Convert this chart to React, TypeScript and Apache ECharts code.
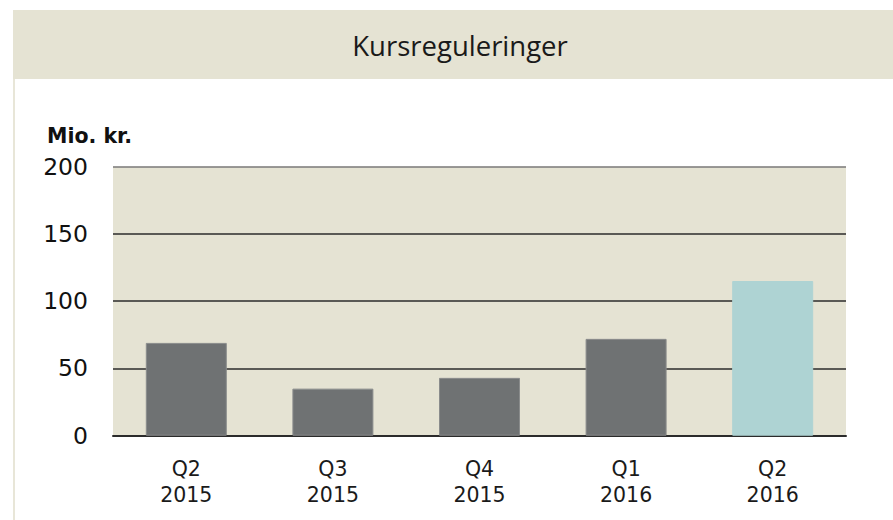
import React, { useEffect, useRef } from "react";
import * as echarts from "echarts";

const quarters = ["Q2", "Q3", "Q4", "Q1", "Q2"];
const years = ["2015", "2015", "2015", "2016", "2016"];
const values = [69, 35, 43, 72, 115];
const barColors = ["#6f7273", "#6f7273", "#6f7273", "#6f7273", "#aed3d3"];
const yTicks = [0, 50, 100, 150, 200];
const title = "Kursreguleringer";
const unitLabel = "Mio. kr.";

export default function App() {
  const ref = useRef<HTMLDivElement>(null);
  useEffect(() => {
    document.body.style.margin = "0";
    if (!ref.current) return;
    const chart = echarts.init(ref.current, null, { renderer: "svg" });
    const categories = quarters.map((q, i) => q + "\n" + years[i]);
    chart.setOption({
      animation: false,
      backgroundColor: "#ffffff",
      graphic: [
        { type: "rect", shape: { x: 13, y: 10, width: 880, height: 69 }, style: { fill: "#e5e3d3" }, silent: true },
        { type: "rect", shape: { x: 13, y: 79, width: 2, height: 441 }, style: { fill: "#e8e6d8" }, silent: true },
        {
          type: "text",
          x: 460,
          y: 45,
          style: {
            text: title,
            fontFamily: "Open Sans",
            fontSize: 27.5,
            fill: "#1a1a1a",
            align: "center",
            verticalAlign: "middle",
          },
        },
        {
          type: "text",
          x: 47,
          y: 136,
          style: {
            text: unitLabel,
            fontFamily: "DejaVu Sans",
            fontWeight: "bold",
            fontSize: 20.5,
            fill: "#111111",
            align: "left",
            verticalAlign: "middle",
          },
        },
      ],
      grid: {
        left: 113,
        right: 47,
        top: 166.7,
        bottom: 84.3,
        show: true,
        backgroundColor: "#e5e3d3",
        borderWidth: 0,
      },
      xAxis: {
        type: "category",
        data: categories,
        axisLine: { show: true, lineStyle: { color: "#2b2b2b", width: 2 } },
        axisTick: { show: false },
        axisLabel: {
          color: "#1a1a1a",
          fontFamily: "DejaVu Sans",
          fontSize: 20.5,
          lineHeight: 26,
          margin: 20,
          interval: 0,
        },
      },
      yAxis: {
        type: "value",
        min: yTicks[0],
        max: yTicks[yTicks.length - 1],
        interval: 50,
        axisLine: { show: false },
        axisTick: { show: false },
        axisLabel: {
          color: "#111111",
          fontFamily: "DejaVu Sans",
          fontSize: 23.5,
          margin: 25,
        },
        splitLine: {
          show: true,
          lineStyle: { color: ["#2b2b2b", "#2b2b2b", "#2b2b2b", "#2b2b2b", "#7a7a7a"], width: 1.5 },
        },
      },
      series: [
        {
          type: "bar",
          barWidth: 81,
          data: values.map((v, i) => ({
            value: v,
            itemStyle: {
              color: barColors[i],
              borderColor: i < 4 ? "#8a8c8c" : barColors[i],
              borderWidth: 1,
            },
          })),
        },
      ],
    });
    return () => chart.dispose();
  }, []);
  return <div ref={ref} style={{ width: 893, height: 520 }} />;
}
